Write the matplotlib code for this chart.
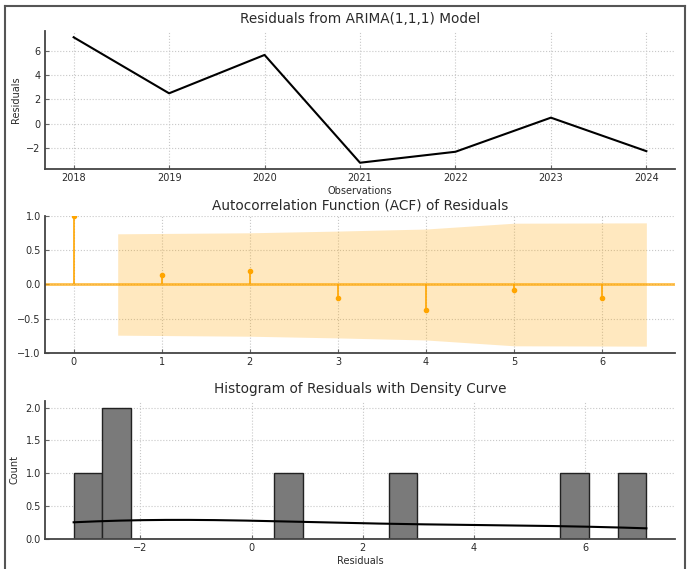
import matplotlib
matplotlib.use("Agg")
import matplotlib.pyplot as plt
import seaborn as sns
from matplotlib.lines import Line2D

# ---- data ----
years = [2018, 2019, 2020, 2021, 2022, 2023, 2024]
residuals = [7.1, 2.5, 5.65, -3.2, -2.3, 0.5, -2.25]

acf_lags = [0, 1, 2, 3, 4, 5, 6]
acf_values = [1.0, 0.14, 0.20, -0.19, -0.37, -0.08, -0.20]
conf_x = [0.5, 2, 3, 4, 5, 6.5]
conf_half = [0.74, 0.755, 0.78, 0.81, 0.895, 0.90]

hist_bins = 20

plt.rcParams['font.family'] = ['DejaVu Sans']
plt.rcParams['text.color'] = '#2a2a2a'
plt.rcParams['axes.labelcolor'] = '#2a2a2a'

W, H = 691, 569
fig = plt.figure(figsize=(W / 100, H / 100), dpi=100)

def px_axes(left, top, right, bottom):
    return fig.add_axes([left / W, 1 - bottom / H, (right - left) / W, (bottom - top) / H])

spine_col = '#444444'
grid_kw = dict(color='#c8c8c8', linestyle=':', linewidth=0.8)
tick_fs = 7
label_fs = 7
title_fs = 9.8

def style(ax):
    for s in ('top', 'right'):
        ax.spines[s].set_visible(False)
    for s in ('left', 'bottom'):
        ax.spines[s].set_color(spine_col)
        ax.spines[s].set_linewidth(1.3)
    ax.tick_params(axis='both', labelsize=tick_fs, colors='#2a2a2a', length=3, width=0.8, direction='in', pad=3)
    ax.tick_params(axis='both', color='#666666')
    ax.grid(True, **grid_kw)
    ax.set_axisbelow(True)

# ---- top: residual line ----
ax1 = px_axes(45, 31, 675, 169)
ax1.plot(years, residuals, color='black', linewidth=1.5)
ax1.set_title('Residuals from ARIMA(1,1,1) Model', fontsize=title_fs, pad=6)
ax1.set_xlabel('Observations', fontsize=label_fs, labelpad=2)
ax1.set_ylabel('Residuals', fontsize=label_fs, labelpad=4)
ax1.set_yticks([-2, 0, 2, 4, 6])
style(ax1)

# ---- middle: ACF ----
ax2 = px_axes(45, 216, 675, 353)
orange = '#FFA500'
ax2.fill_between(conf_x, [-v for v in conf_half], conf_half, color=orange, alpha=0.25, linewidth=0)
ax2.axhline(0, color=orange, alpha=0.7, linewidth=2)
ax2.vlines(acf_lags, [0] * len(acf_lags), acf_values, color=orange, linewidth=1.2)
ax2.plot(acf_lags, acf_values, 'o', color=orange, markersize=3)
ax2.set_title('Autocorrelation Function (ACF) of Residuals', fontsize=title_fs, pad=5)
ax2.set_ylim(-1, 1)
ax2.set_yticks([-1.0, -0.5, 0.0, 0.5, 1.0])
style(ax2)

# ---- bottom: histogram ----
ax3 = px_axes(45, 401, 675, 539)
sns.histplot(x=residuals, bins=hist_bins, kde=True, ax=ax3, color='#7a7a7a', alpha=1,
             edgecolor='#222222', linewidth=1.0, line_kws=dict(color='black', linewidth=1.5))
ax3.lines[0].set_color('black')
ax3.set_title('Histogram of Residuals with Density Curve', fontsize=title_fs, pad=6)
ax3.set_xlabel('Residuals', fontsize=label_fs, labelpad=2)
ax3.set_ylabel('Count', fontsize=label_fs, labelpad=4)
ax3.set_yticks([0.0, 0.5, 1.0, 1.5, 2.0])
ax3.set_yticklabels(['0.0', '0.5', '1.0', '1.5', '2.0'])
style(ax3)

# ---- frame around the picture ----
fc = '#555555'
fig.add_artist(Line2D([5 / W, 5 / W], [0, 1 - 6 / H], transform=fig.transFigure, color=fc, linewidth=1.5))
fig.add_artist(Line2D([5 / W, 685 / W], [1 - 6 / H, 1 - 6 / H], transform=fig.transFigure, color=fc, linewidth=1.5))
fig.add_artist(Line2D([685 / W, 685 / W], [0, 1 - 6 / H], transform=fig.transFigure, color=fc, linewidth=1.5))

fig.savefig('out.png', dpi=100, facecolor='white')
